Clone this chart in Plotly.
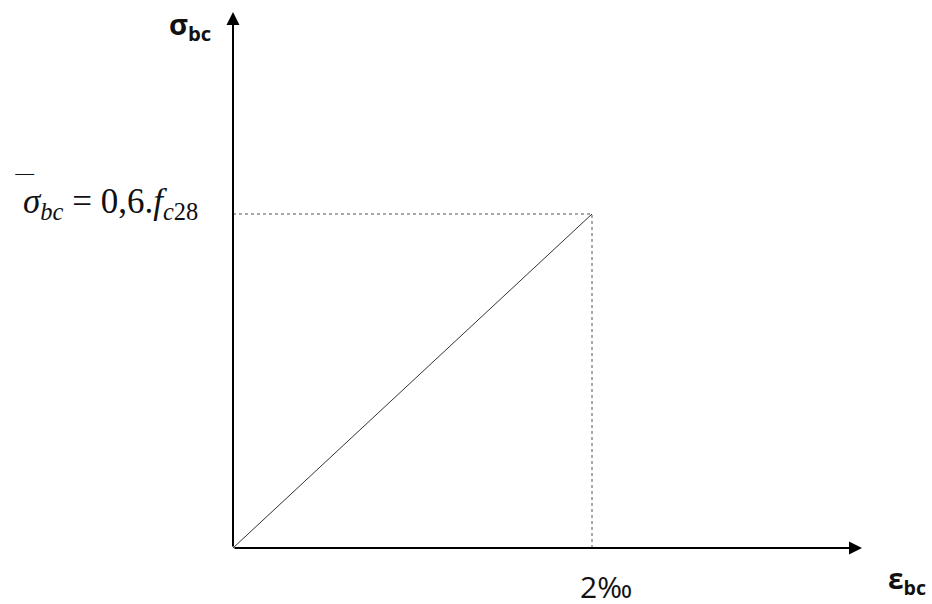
import plotly.graph_objects as go

# Data (strain in per-mille, stress normalised to 0.6 fc28)
strain = [0, 2]
stress = [0, 1]
strain_tick = "2‰"
stress_label = "<i>σ<sub>bc</sub></i> = 0,6.<i>f<sub>c</sub></i><sub>28</sub>"
x_title = "<b>ε<sub>bc</sub></b>"
y_title = "<b>σ<sub>bc</sub></b>"

W, H = 932, 604
ox, oy = 233, 548          # origin pixel
sx = (592 - ox) / strain[1]
sy = (oy - 214) / stress[1]
xr = [-ox / sx, (W - ox) / sx]
yr = [-(H - oy) / sy, oy / sy]
x_end = (862 - ox) / sx
y_end = (oy - 12) / sy

fig = go.Figure()
# dotted guides
fig.add_trace(go.Scatter(x=[0, strain[1], strain[1]], y=[stress[1], stress[1], 0],
                         mode="lines", line=dict(color="#555", width=1, dash="dot"),
                         hoverinfo="skip", showlegend=False))
# linear law
fig.add_trace(go.Scatter(x=strain, y=stress, mode="lines",
                         line=dict(color="#333", width=1), showlegend=False))

# axes with arrows
for (xe, ye) in [(x_end, 0), (0, y_end)]:
    fig.add_annotation(x=xe, y=ye, ax=0, ay=0, xref="x", yref="y", axref="x", ayref="y",
                       showarrow=True, arrowhead=2, arrowsize=1.3, arrowwidth=2,
                       arrowcolor="black", text="")

fig.add_annotation(x=-0.24, y=1.564, xref="x", yref="y", text=y_title, showarrow=False,
                   font=dict(family="Open Sans", size=29, color="#111"))
fig.add_annotation(x=3.755, y=-0.096, xref="x", yref="y", text=x_title, showarrow=False,
                   font=dict(family="Open Sans", size=28, color="#111"))
fig.add_annotation(x=2.078, y=-0.114, xref="x", yref="y", text=strain_tick,
                   showarrow=False, font=dict(family="Open Sans", size=30, color="#111"))
fig.add_annotation(x=-0.684, y=1.03, xref="x", yref="y", text=stress_label, showarrow=False,
                   font=dict(family="Liberation Serif", size=35, color="#111"))
# overline of sigma-bar
fig.add_annotation(x=-1.16, y=1.085, xref="x", yref="y", text="‾‾", showarrow=False,
                   font=dict(family="Liberation Serif", size=26, color="#111"))

fig.update_xaxes(range=xr, visible=False)
fig.update_yaxes(range=yr, visible=False)
fig.update_layout(width=W, height=H, margin=dict(l=0, r=0, t=0, b=0, autoexpand=False),
                  plot_bgcolor="white", paper_bgcolor="white")
fig.write_html("out.html", config={"displayModeBar": False},
               post_script="document.body.style.margin='0';")
